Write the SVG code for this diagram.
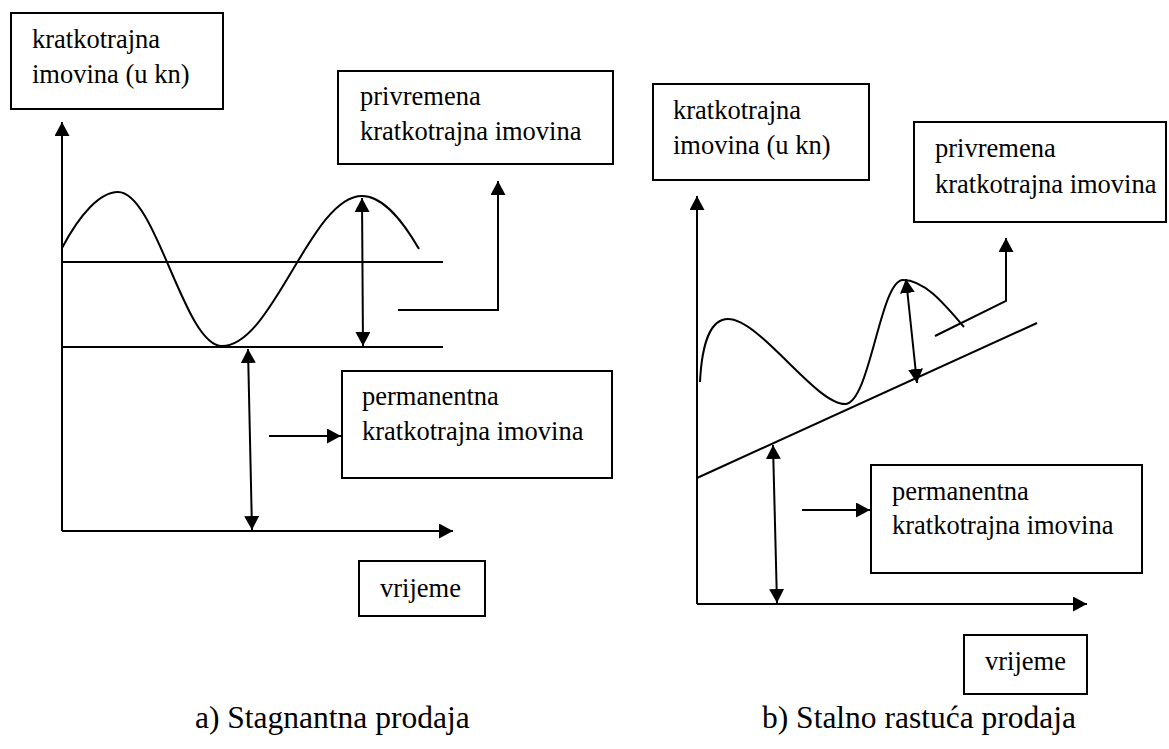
<svg xmlns="http://www.w3.org/2000/svg" width="1169" height="749" viewBox="0 0 1169 749">
<style>
.box{fill:#fff;stroke:#000;stroke-width:2}
.t{font-family:"Liberation Serif","Times New Roman",serif;font-size:26.5px;fill:#000}
.cap{font-family:"Liberation Serif","Times New Roman",serif;font-size:31.5px;fill:#000}
.ln{fill:none;stroke:#000;stroke-width:2}
.ar{fill:none;stroke:#000;stroke-width:2;marker-end:url(#ah)}
.da{fill:none;stroke:#000;stroke-width:2;marker-start:url(#ah);marker-end:url(#ah)}
</style>
<defs>
<marker id="ah" viewBox="0 0 14 15" refX="14" refY="7.5" markerWidth="14" markerHeight="15" markerUnits="userSpaceOnUse" orient="auto-start-reverse"><path d="M0,0 L14,7.5 L0,15 z" fill="#000"/></marker>
</defs>
<rect width="1169" height="749" fill="#fff"/>

<g id="connectors">
<!-- left chart -->
<line class="ar" x1="62" y1="531" x2="62" y2="122"/>
<line class="ar" x1="62" y1="531" x2="453" y2="531"/>
<line class="ln" x1="62" y1="262" x2="443" y2="262"/>
<line class="ln" x1="62" y1="347" x2="443" y2="347"/>
<path class="ln" d="M62,248 C80,214 100,192 118,192 C156,192 184,346 222,346 C273,346 311,196 362,196 C385,196 405,225 419,249"/>
<line class="da" x1="362" y1="198" x2="363" y2="346"/>
<line class="da" x1="248" y1="349" x2="252" y2="530"/>
<polyline class="ar" points="398,310 498,310 498,181"/>
<line class="ar" x1="269" y1="436" x2="341" y2="436"/>
<!-- right chart -->
<line class="ar" x1="697" y1="604" x2="697" y2="196"/>
<line class="ar" x1="697" y1="604" x2="1087" y2="604"/>
<line class="ln" x1="697" y1="478" x2="1037" y2="323"/>
<path class="ln" d="M700,382 C702,340 712,319 728,319 C760,319 815,404 845,404 C870,404 880,280 903,280 C925,280 945,305 964,327"/>
<line class="da" x1="906" y1="279" x2="917" y2="383"/>
<line class="da" x1="773" y1="445" x2="777" y2="603"/>
<polyline class="ar" points="935,336 1006,301 1006,238"/>
<line class="ar" x1="802" y1="510" x2="870" y2="510"/>
</g>

<g id="a-axis-label">
<rect class="box" x="11" y="13" width="212" height="96"/>
<text class="t" x="32" y="48">kratkotrajna</text>
<text class="t" x="32" y="83">imovina (u kn)</text>
</g>
<g id="a-privremena">
<rect class="box" x="338" y="71" width="275" height="93"/>
<text class="t" x="360" y="105">privremena</text>
<text class="t" x="360" y="140">kratkotrajna imovina</text>
</g>
<g id="a-permanentna">
<rect class="box" x="342" y="371" width="270" height="107"/>
<text class="t" x="362" y="405">permanentna</text>
<text class="t" x="362" y="440">kratkotrajna imovina</text>
</g>
<g id="a-vrijeme">
<rect class="box" x="359" y="561" width="126" height="55"/>
<text class="t" x="380" y="597">vrijeme</text>
</g>

<g id="b-axis-label">
<rect class="box" x="653" y="84" width="216" height="96"/>
<text class="t" x="673" y="119">kratkotrajna</text>
<text class="t" x="673" y="154">imovina (u kn)</text>
</g>
<g id="b-privremena">
<rect class="box" x="914" y="122" width="252" height="100"/>
<text class="t" x="935" y="157">privremena</text>
<text class="t" x="935" y="193">kratkotrajna imovina</text>
</g>
<g id="b-permanentna">
<rect class="box" x="871" y="465" width="271" height="108"/>
<text class="t" x="892" y="500">permanentna</text>
<text class="t" x="892" y="534">kratkotrajna imovina</text>
</g>
<g id="b-vrijeme">
<rect class="box" x="964" y="635" width="123" height="59"/>
<text class="t" x="985" y="670">vrijeme</text>
</g>

<g id="captions">
<text class="cap" x="195" y="728">a) Stagnantna prodaja</text>
<text class="cap" x="762" y="728">b) Stalno rastuća prodaja</text>
</g>
</svg>
